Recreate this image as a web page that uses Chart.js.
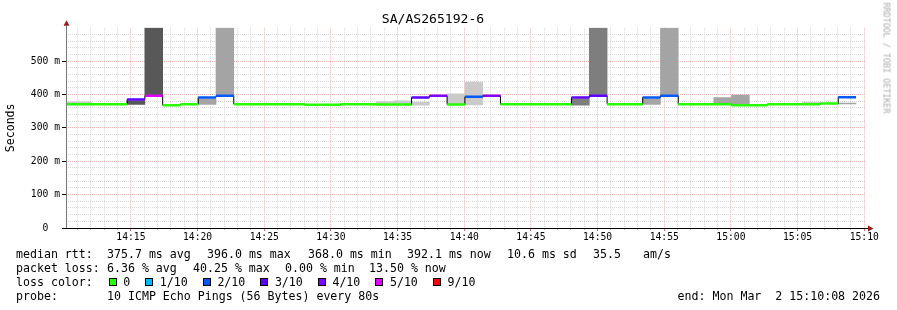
<!DOCTYPE html>
<html>
<head>
<meta charset="utf-8">
<title>SA/AS265192-6</title>
<script src="https://cdn.jsdelivr.net/npm/chart.js@4.4.1/dist/chart.umd.min.js"></script>
<style>
  html, body { margin: 0; padding: 0; background: #fff; }
  #wrap { position: relative; width: 897px; height: 310px; overflow: hidden; background: #fff; }
  #chart { position: absolute; left: 0; top: 0; width: 897px; height: 310px; }
  .t { position: absolute; white-space: pre; font-family: 'DejaVu Sans Mono', monospace; font-size: 11.6px; line-height: 14px; color: #000; }
  #legend { position: absolute; left: 108.7px; top: 275px; height: 14px; display: flex; align-items: center;
            font-family: 'DejaVu Sans Mono', monospace; font-size: 11.6px; line-height: 14px; white-space: pre; }
  #legend .box { width: 6px; height: 6px; border: 1px solid #000; margin-right: 6.6px; }
  #legend .lbl { margin-right: 15px; }
  #mark { position: absolute; left: 831px; top: 53px; width: 111px; height: 10px; line-height: 10px; text-align: center;
          transform: rotate(90deg); font-family: 'DejaVu Sans Mono', monospace; font-size: 8.4px; color: #aaa; white-space: pre; }
</style>
</head>
<body>
<div id="wrap">
  <canvas id="chart" width="897" height="310"></canvas>

  <span class="t" style="left:16px;top:247px">median rtt:</span>
  <span class="t" style="left:107px;top:247px">375.7 ms avg</span>
  <span class="t" style="left:207px;top:247px">396.0 ms max</span>
  <span class="t" style="left:308px;top:247px">368.0 ms min</span>
  <span class="t" style="left:407px;top:247px">392.1 ms now</span>
  <span class="t" style="left:507px;top:247px">10.6 ms sd</span>
  <span class="t" style="left:593px;top:247px">35.5</span>
  <span class="t" style="left:643px;top:247px">am/s</span>

  <span class="t" style="left:16px;top:261px">packet loss:</span>
  <span class="t" style="left:107px;top:261px">6.36 % avg</span>
  <span class="t" style="left:193px;top:261px">40.25 % max</span>
  <span class="t" style="left:285px;top:261px">0.00 % min</span>
  <span class="t" style="left:369px;top:261px">13.50 % now</span>

  <span class="t" style="left:16px;top:275px">loss color:</span>
  <div id="legend"></div>

  <span class="t" style="left:16px;top:289px">probe:</span>
  <span class="t" style="left:107px;top:289px">10 ICMP Echo Pings (56 Bytes) every 80s</span>
  <span class="t" style="right:17px;top:289px">end: Mon Mar  2 15:10:08 2026</span>

  <div id="mark">RRDTOOL / TOBI OETIKER</div>
</div>

<script>
// SmokePing style latency graph, one hour of 80 s probe steps

const graphTitle = 'SA/AS265192-6';
const startTime = '14:10:08';
const endTime = '15:10:08';
const firstStep = '14:09:23';
const stepSeconds = 80;

const timeLabels = ['14:15', '14:20', '14:25', '14:30', '14:35', '14:40',
                    '14:45', '14:50', '14:55', '15:00', '15:05', '15:10'];
const yLabelValues = [0, 100, 200, 300, 400, 500];

// median rtt per step (ms)
const medianMs = [371, 371, 371, 371, 385, 396, 368, 371, 391, 396,
                  371, 371, 371, 371, 369, 369, 371, 371, 370, 370,
                  391, 396, 370, 393, 396, 371, 371, 371, 371, 391,
                  396, 371, 371, 391, 396, 371, 371, 371, 368, 368,
                  371, 371, 371, 373, 392];

// packet loss per step (%)
const lossPct = [0, 0, 0, 0, 22, 40.25, 0, 0, 15, 18,
                 0, 0, 0, 0, 0, 0, 0, 0, 0, 0,
                 24, 32, 0, 12, 32, 0, 0, 0, 0, 22,
                 26, 0, 0, 15, 18, 0, 0, 0, 0, 0,
                 0, 0, 0, 0, 13.5];

// smoke band per step (ms), null where none shows
const smokeLow = [369, 369, null, null, 370, 396, null, null, 370, 396,
                  null, null, null, null, null, null, null, null, 369, 369,
                  368, null, 370, 369, null, null, null, null, null, 368,
                  396, null, null, 370, 396, null, null, 372, 372, null,
                  null, null, 370, null, 371.5];
const smokeHigh = [378, 378, null, null, 381, 600, null, null, 387, 600,
                   null, null, null, null, null, null, null, null, 379, 381,
                   377, null, 402, 437, null, null, null, null, null, 387,
                   600, null, null, 387, 600, null, null, 391, 398, null,
                   null, null, 377, null, 374.5];
// ping pair that forms the visible smoke (1 = outermost ... 4 = innermost)
const smokePair = [1, 1, null, null, 4, 4, null, null, 2, 2,
                   null, null, null, null, null, null, null, null, 1, 1,
                   1, null, 1, 1, null, null, null, null, null, 3,
                   3, null, null, 2, 2, null, null, 2, 2, null,
                   null, null, 1, null, 2];

// loss colour legend (lost pings out of 10)
const lossLabels = ['0', '1/10', '2/10', '3/10', '4/10', '5/10', '9/10'];
const lossLimits = [0, 1, 2, 3, 4, 5, 9];
const lossColors = ['#26ff00', '#00b8ff', '#0059ff', '#5e00ff', '#7e00ff', '#dd00ff', '#ff0000'];

const mono = "'DejaVu Sans Mono', monospace";

function toSec(hms) {
    const p = hms.split(':').map(Number);
    return p[0] * 3600 + p[1] * 60 + (p[2] || 0);
}

function lossColor(pct) {
    const lost = pct / 10;
    const idx = lossLimits.findIndex(l => lost <= l);
    return lossColors[idx < 0 ? lossColors.length - 1 : idx];
}

// smokeping grey: int(190/half*(half-pair))+50
function smokeColor(pair) {
    const half = 5;
    const g = Math.floor(190 / half * (half - pair)) + 50;
    return `rgb(${g}, ${g}, ${g})`;
}

const t0 = toSec(startTime);
const span = toSec(endTime) - t0;
const stepStart = medianMs.map((_, i) => toSec(firstStep) - t0 + i * stepSeconds);
const last = medianMs.length - 1;

const majorTicks = timeLabels.map(t => toSec(t) - t0);
const minorTicks = [];
for (let v = Math.ceil(t0 / 60) * 60 - t0; v <= span; v += 60) {
    if (!majorTicks.includes(v)) minorTicks.push(v);
}

// smoke bars
const smokeData = [];
const smokeColors = [];
medianMs.forEach((_, i) => {
    if (smokeLow[i] === null) return;
    smokeData.push({ x: stepStart[i] + stepSeconds / 2, y: [smokeLow[i], smokeHigh[i]] });
    smokeColors.push(smokeColor(smokePair[i]));
});

// thin black median (step outline)
const medianStep = medianMs.map((m, i) => ({ x: stepStart[i], y: m }));
medianStep.push({ x: stepStart[last] + stepSeconds, y: medianMs[last] });

// coloured median, one horizontal piece per step
const medianSeg = [];
medianMs.forEach((m, i) => {
    const e = stepStart[i] + stepSeconds;
    medianSeg.push({ x: stepStart[i], y: m }, { x: e, y: m }, { x: e, y: null });
});

// legend boxes
const legend = document.getElementById('legend');
lossLabels.forEach((lbl, i) => {
    const box = document.createElement('span');
    box.className = 'box';
    box.style.background = lossColors[i];
    const txt = document.createElement('span');
    txt.className = 'lbl';
    txt.textContent = lbl;
    legend.appendChild(box);
    legend.appendChild(txt);
});

// axis lines with rrdtool arrows
const axisArrows = {
    id: 'axisArrows',
    afterDraw(chart) {
        const { ctx, chartArea: a } = chart;
        ctx.save();
        ctx.lineWidth = 1;
        ctx.strokeStyle = '#777';
        ctx.beginPath();
        ctx.moveTo(a.left + 0.5, a.bottom);
        ctx.lineTo(a.left + 0.5, a.top - 2);
        ctx.stroke();
        ctx.strokeStyle = '#000';
        ctx.beginPath();
        ctx.moveTo(a.left - 4, a.bottom + 0.5);
        ctx.lineTo(a.right + 2, a.bottom + 0.5);
        ctx.stroke();

        ctx.fillStyle = '#9a1c1c';
        ctx.beginPath();
        ctx.moveTo(a.left + 0.5, a.top - 7.5);
        ctx.lineTo(a.left - 2.5, a.top - 2);
        ctx.lineTo(a.left + 3.5, a.top - 2);
        ctx.closePath();
        ctx.fill();
        ctx.beginPath();
        ctx.moveTo(a.right + 7.5, a.bottom + 0.5);
        ctx.lineTo(a.right + 2, a.bottom - 2.5);
        ctx.lineTo(a.right + 2, a.bottom + 3.5);
        ctx.closePath();
        ctx.fill();
        ctx.restore();
    }
};

new Chart(document.getElementById('chart'), {
    type: 'bar',
    data: {
        datasets: [
            {
                type: 'line',
                label: 'median',
                data: medianSeg,
                borderColor: lossColors[0],
                borderWidth: 2.5,
                borderCapStyle: 'butt',
                pointRadius: 0,
                spanGaps: false,
                segment: {
                    borderColor: ctx => lossColor(lossPct[Math.floor(ctx.p0DataIndex / 3)])
                },
                order: 1,
                clip: 0
            },
            {
                type: 'line',
                label: 'median step',
                data: medianStep,
                stepped: 'before',   // horizontal first, then the jump
                borderColor: '#000',
                borderWidth: 1,
                pointRadius: 0,
                order: 2,
                clip: 0
            },
            {
                type: 'bar',
                label: 'smoke',
                data: smokeData,
                backgroundColor: smokeColors,
                borderWidth: 0,
                barPercentage: 1,
                categoryPercentage: 1,
                grouped: false,
                order: 3,
                clip: 0
            }
        ]
    },
    options: {
        responsive: false,
        animation: false,
        events: [],
        layout: { padding: { top: 12, right: 31, left: 0, bottom: 0 } },
        plugins: {
            legend: { display: false },
            tooltip: { enabled: false },
            title: {
                display: true,
                text: graphTitle,
                color: '#000',
                font: { family: mono, size: 13.1, weight: 'normal' },
                padding: 0
            }
        },
        scales: {
            x: {
                type: 'linear',
                position: 'bottom',
                min: 0,
                max: span,
                offset: false,
                weight: 1,
                afterBuildTicks: s => { s.ticks = majorTicks.map(v => ({ value: v })); },
                afterFit: s => { s.height = 82; },
                ticks: {
                    autoSkip: false,
                    maxRotation: 0,
                    padding: 1,
                    color: '#000',
                    font: { family: mono, size: 9.7 },
                    callback: (v, i) => timeLabels[i]
                },
                grid: { offset: false, color: '#f4b4b4', tickColor: '#e07070', tickLength: 3 },
                border: { display: false, dash: [1, 1] }
            },
            x2: {
                type: 'linear',
                position: 'bottom',
                min: 0,
                max: span,
                offset: false,
                weight: 0,
                afterBuildTicks: s => { s.ticks = minorTicks.map(v => ({ value: v })); },
                afterFit: s => { s.height = 0; },
                ticks: { autoSkip: false, display: false },
                grid: { offset: false, color: '#d6d6d6', tickColor: '#aaaaaa', tickLength: 2 },
                border: { display: false, dash: [1, 1] }
            },
            y: {
                min: 0,
                max: 600,
                afterFit: s => { s.width = 66; },
                ticks: {
                    stepSize: 20,
                    autoSkip: false,
                    padding: 2,
                    color: '#000',
                    font: { family: mono, size: 9.7 },
                    callback: v => yLabelValues.includes(v) ? (v === 0 ? '0  ' : v + ' m') : ''
                },
                grid: {
                    color: ctx => {
                        const v = ctx.tick.value;
                        if (v === 0 || v >= 600) return 'rgba(0,0,0,0)';
                        return v % 100 === 0 ? '#f4b4b4' : '#d6d6d6';
                    },
                    tickColor: ctx => yLabelValues.includes(ctx.tick.value) ? '#000' : 'rgba(0,0,0,0)',
                    tickLength: 4
                },
                border: { display: false, dash: [1, 1] },
                title: {
                    display: true,
                    text: 'Seconds',
                    color: '#000',
                    font: { family: mono, size: 11.6 },
                    padding: { top: 4, bottom: 0 }
                }
            }
        }
    },
    plugins: [axisArrows]
});
</script>
</body>
</html>
